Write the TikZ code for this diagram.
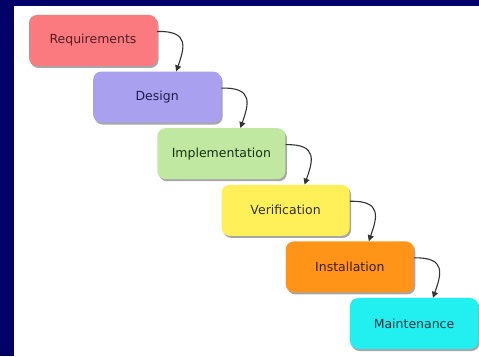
\documentclass[tikz,border=0pt]{standalone}
\usepackage{fontspec}
\setmainfont{DejaVu Sans}
\usetikzlibrary{arrows.meta,shadows}
\definecolor{navy}{RGB}{0,0,104}
\definecolor{creq}{RGB}{250,122,128}
\definecolor{cdes}{RGB}{170,160,240}
\definecolor{cimp}{RGB}{192,232,160}
\definecolor{cver}{RGB}{255,240,90}
\definecolor{cins}{RGB}{255,148,24}
\definecolor{cmai}{RGB}{34,240,240}
\definecolor{treq}{RGB}{80,30,34}
\definecolor{tdes}{RGB}{30,30,80}
\definecolor{timp}{RGB}{20,50,20}
\definecolor{tver}{RGB}{50,50,20}
\definecolor{tins}{RGB}{60,30,5}
\definecolor{tmai}{RGB}{15,50,60}
\tikzset{
  phase/.style={draw=none, rounded corners=8pt, minimum width=128pt, minimum height=51pt,
    inner sep=0pt, font=\fontsize{12.5pt}{14pt}\selectfont,
    drop shadow={shadow xshift=1.5pt, shadow yshift=-2pt, opacity=0.35, fill=black}},
  flow/.style={draw=black!80, line width=1.1pt, -{Triangle[width=6pt,length=6pt]}}
}
\begin{document}
\begin{tikzpicture}[x=1pt,y=1pt]
\useasboundingbox (0,0) rectangle (479,356);
\fill[white] (0,0) rectangle (479,356);
\fill[navy] (0,0) rectangle (14,356);
\fill[navy] (0,350) rectangle (479,356);
\node[phase, fill=creq, text=treq] (r) at (93,315.5) {Requirements};
\node[phase, fill=cdes, text=tdes] (d) at (157.2,258.9) {Design};
\node[phase, fill=cimp, text=timp] (i) at (221.4,202.3) {Implementation};
\node[phase, fill=cver, text=tver] (v) at (285.6,145.7) {Verification};
\node[phase, fill=cins, text=tins] (s) at (349.8,89.1) {Installation};
\node[phase, fill=cmai, text=tmai] (m) at (414,32.5) {Maintenance};
\foreach \a/\b in {r/d,d/i,i/v,v/s,s/m}{
  \draw[flow] ([yshift=9pt]\a.east) .. controls +(33,1) and +(8,23) .. ([xshift=19pt]\a.east |- \b.north);
}
\end{tikzpicture}
\end{document}
